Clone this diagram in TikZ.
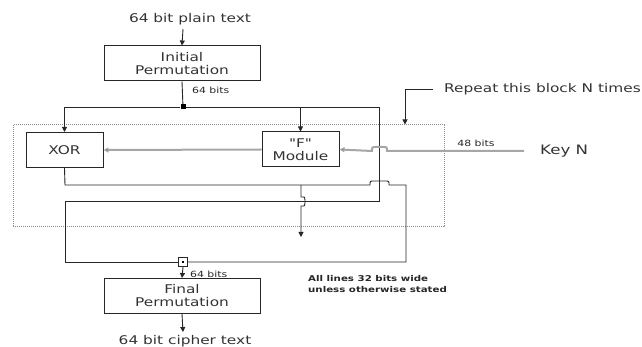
\documentclass[tikz,border=0pt]{standalone}
\usepackage{fontspec}
\newfontfamily\wf{DejaVu Sans}[FakeStretch=1.28]
\usetikzlibrary{arrows.meta}
\newcommand\mainfs{\wf\fontsize{12}{13}\selectfont}
\newcommand\bigfs{\wf\fontsize{13}{15}\selectfont}
\newcommand\smallfs{\wf\fontsize{8.5}{10}\selectfont}
\newcommand\notefs{\wf\bfseries\fontsize{8}{11}\selectfont}
\begin{document}
\begin{tikzpicture}[x=1pt,y=-1pt,
  box/.style={draw=black!85,line width=1pt,minimum width=156pt,minimum height=35pt,inner sep=0pt,align=center,font=\mainfs,text=black!80},
  smallbox/.style={draw=black!85,line width=1pt,minimum width=77pt,minimum height=35pt,inner sep=0pt,align=center,font=\mainfs,text=black!80},
  lbl/.style={inner sep=0pt,font=\mainfs,text=black!80},
  slbl/.style={inner sep=0pt,font=\smallfs,text=black!85},
  wire/.style={draw=black!85,line width=0.9pt},
  gwire/.style={draw=black!35,line width=2pt},
  arr/.style={-{Triangle[length=5pt,width=5pt]}},
  ]
\useasboundingbox (0,0) rectangle (642,347);
% dotted block
\node[draw=black!45,line width=1pt,dash pattern=on 1pt off 1pt,minimum width=431pt,minimum height=102pt,inner sep=0pt] (blk) at (228.5,176) {};
% texts and boxes
\node[lbl] (plain) at (190,19) {64 bit plain text};
\node[box] (ip) at (182,63.5) {Initial\\Permutation};
\node[fill=black,minimum size=5pt,inner sep=0pt] (split) at (183,107) {};
\node[slbl,anchor=west] (b64a) at (192,90) {64 bits};
\node[smallbox] (xor) at (64.5,150) {XOR};
\node[smallbox] (fmod) at (300.5,149.5) {"F"\\Module};
\node[lbl,anchor=west,font=\bigfs] (key) at (540,151) {Key N};
\node[slbl] (b48) at (476,143) {48 bits};
\node[lbl,anchor=west] (rep) at (444,89) {Repeat this block N times};
\node[draw=black!85,line width=1pt,minimum size=9pt,inner sep=0pt] (join) at (183,262) {};
\node[fill=black,minimum size=1.5pt,inner sep=0pt] (jdot) at (183,262) {};
\node[slbl,anchor=west] (b64b) at (190,274) {64 bits};
\node[box] (fp) at (182,296) {Final\\Permutation};
\node[lbl] (cipher) at (185,341) {64 bit cipher text};
\node[slbl,anchor=north west,align=left,font=\notefs] (note) at (308,275) {All lines 32 bits wide\\unless otherwise stated};
% coordinates
\coordinate (tr) at (379,107);
\coordinate (rb) at (379,201);
\coordinate (lb) at (65,201);
\coordinate (lj) at (65,262);
\coordinate (xo1) at (65,185);
\coordinate (xo2) at (406,185);
\coordinate (rj) at (406,262);
\coordinate (ks) at (524,151);
\coordinate (dn1) at (301,185);
\coordinate (dn2) at (301,237);
\coordinate (rp1) at (433,89);
\coordinate (rp2) at (405,89);
\coordinate (ct) at (183,332);
% connectors
\draw[wire,arr] (183,29) -- (ip.north);
\draw[wire] (ip.south) -- (split);
\draw[wire,arr] (split) -| (xor.north);
\draw[wire,arr] (split) -| (fmod.north);
\draw[wire] (split) -- (tr) -- (rb) -- (lb) -- (lj) -- (join.west);
\draw[wire] (xor.south) -- (xo1) -- (370,185) .. controls (370,181) .. (374,181) -- (385,181) .. controls (389,181) .. (389,185) -- (xo2) -- (rj) -- (join.east);
\draw[gwire,-{Triangle[length=5pt,width=5pt,fill=black]}] (fmod.west) -- (xor.east);
\draw[gwire,-{Triangle[length=5pt,width=5pt,fill=black]}] (ks) -- (387,151) .. controls (387,147) .. (383,147) -- (376,147) .. controls (372,147) .. (372,151) -- (fmod.east);
\draw[wire,arr] (dn1) -- (301,197) .. controls (305,197) .. (305,200) -- (305,203) .. controls (305,206) .. (301,206) -- (dn2);
\draw[wire,arr] (join.south) -- (fp.north);
\draw[wire,arr] (fp.south) -- (ct);
\draw[wire,arr] (rp1) -- (rp2) -- (rp2 |- blk.north);
\end{tikzpicture}
\end{document}
